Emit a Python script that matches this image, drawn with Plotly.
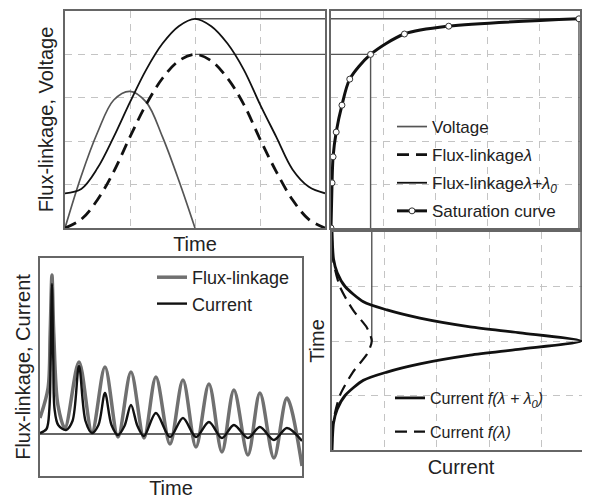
import plotly.graph_objects as go

# ---------------- data ----------------
# top-left panel: time in grid units (0..4)
time_v = [0, 0.25, 0.5, 0.75, 1.0, 1.25, 1.5, 1.75, 2.0]
voltage = [0, 1.2, 2.2, 2.95, 3.15, 2.9, 2.1, 1.1, 0]

time_tl = [0, 0.25, 0.5, 0.75, 1.0, 1.25, 1.5, 1.75, 2.0,
           2.25, 2.5, 2.75, 3.0, 3.25, 3.5, 3.75, 4.0]
flux_lam = [0, 0.2, 0.65, 1.3, 2.1, 2.85, 3.45, 3.85, 4.0,
            3.85, 3.45, 2.85, 2.05, 1.3, 0.65, 0.2, 0]
flux_lam_l0 = [0.8, 0.9, 1.38, 2.1, 2.9, 3.65, 4.25, 4.65, 4.82,
               4.65, 4.25, 3.65, 2.85, 2.1, 1.35, 0.95, 0.8]

# top-right panel: saturation curve (current, flux-linkage)
sat_current = [0, 0.02, 0.04, 0.10, 0.21, 0.36, 0.76, 1.41, 2.26, 4.76]
sat_flux = [0, 1.04, 1.64, 2.21, 2.83, 3.43, 4.0, 4.47, 4.65, 4.82]

# lower-right panel: current versus time
time_lr = [0, 0.5, 0.75, 1.0, 1.28, 1.43, 1.58, 1.74, 1.85, 2.0,
           2.15, 2.26, 2.42, 2.57, 2.72, 3.0, 3.25, 3.5, 4.0]
cur_f_lam0 = [0, 0.03, 0.1, 0.25, 0.6, 1.05, 1.68, 2.64, 3.6, 4.76,
              3.6, 2.64, 1.68, 1.05, 0.6, 0.25, 0.1, 0.03, 0]
time_lr_d = [0, 0.5, 1.0, 1.43, 1.76, 2.0, 2.24, 2.57, 3.0, 3.5, 4.0]
cur_f_lam = [0, 0.02, 0.15, 0.4, 0.67, 0.76, 0.67, 0.4, 0.15, 0.02, 0]

# lower-left panel: simulated flux-linkage and current
ll_flux_t = [0, 0.31, 0.39, 0.46, 0.53, 0.69, 0.96, 1.5, 2.0, 2.5, 3.0, 3.5,
             4.0, 4.46, 5.0, 5.5, 6.0, 6.5, 7.0, 7.46, 8.0, 8.46, 9.0, 9.5, 10.08]
ll_flux = [1.6, 4.6, 10.0, 15.9, 10.0, 2.9, 0.6, 7.2, 0.2, 6.7, -0.3, 6.2,
           -0.4, 5.7, -1.0, 5.4, -1.3, 5.0, -1.8, 4.4, -2.1, 4.1, -2.4, 3.6, -3.2]
ll_cur_t = [0, 0.25, 0.36, 0.41, 0.46, 0.51, 0.56, 0.7, 1.0, 1.25, 1.5, 1.75,
            2.0, 2.25, 2.5, 2.75, 3.0, 3.25, 3.5, 3.75, 4.0, 4.46, 5.0, 5.5,
            6.0, 6.5, 7.0, 7.46, 8.0, 8.46, 9.0, 9.5, 10.08]
ll_cur = [0.1, 0.5, 2.5, 7.5, 15.0, 7.5, 2.5, 0.9, 0.4, 1.3, 6.8, 1.3,
          0.1, 0.9, 4.1, 0.9, -0.1, 0.8, 2.9, 0.8, -0.2, 2.1, -0.3, 1.6,
          -0.3, 1.2, -0.4, 0.9, -0.4, 0.7, -0.6, 0.6, -0.7]

# ---------------- derived projection values ----------------
lam_peak = max(flux_lam)
lam0_peak = max(flux_lam_l0)
t_peak = time_tl[flux_lam.index(lam_peak)]
i_peak_dash = max(cur_f_lam)
i_peak_solid = max(cur_f_lam0)
t_peak_lr = time_lr[cur_f_lam0.index(i_peak_solid)]
t_end = time_tl[-1]

FONT = "Liberation Sans, Arial, sans-serif"
DASH = "12px,7px"
PROJ = dict(color="#555555", width=1.4)

fig = go.Figure()

# ---- top-left ----
fig.add_trace(go.Scatter(x=[t_peak, t_end], y=[lam0_peak, lam0_peak], mode="lines",
                         line=PROJ, showlegend=False, xaxis="x", yaxis="y", hoverinfo="skip"))
fig.add_trace(go.Scatter(x=[t_peak, t_end], y=[lam_peak, lam_peak], mode="lines",
                         line=PROJ, showlegend=False, xaxis="x", yaxis="y", hoverinfo="skip"))
fig.add_trace(go.Scatter(x=time_v, y=voltage, name="Voltage", mode="lines",
                         line=dict(color="#555555", width=1.7, shape="spline"),
                         xaxis="x", yaxis="y", legend="legend", legendgroup="a"))
fig.add_trace(go.Scatter(x=time_tl, y=flux_lam, name="Flux-linkage<i>λ</i>", mode="lines",
                         line=dict(color="#111111", width=2.8, dash=DASH, shape="spline"),
                         xaxis="x", yaxis="y", legend="legend", legendgroup="b"))
fig.add_trace(go.Scatter(x=time_tl, y=flux_lam_l0,
                         name="Flux-linkage<i>λ+λ<sub>0</sub></i>", mode="lines",
                         line=dict(color="#111111", width=1.8, shape="spline"),
                         xaxis="x", yaxis="y", legend="legend", legendgroup="c"))

# ---- top-right ----
fig.add_trace(go.Scatter(x=[0, i_peak_solid], y=[lam0_peak, lam0_peak], mode="lines",
                         line=PROJ, showlegend=False, xaxis="x2", yaxis="y2", hoverinfo="skip"))
fig.add_trace(go.Scatter(x=[0, i_peak_dash, i_peak_dash], y=[lam_peak, lam_peak, 0],
                         mode="lines", line=PROJ, showlegend=False,
                         xaxis="x2", yaxis="y2", hoverinfo="skip"))
fig.add_trace(go.Scatter(x=[i_peak_solid, i_peak_solid], y=[lam0_peak, 0], mode="lines",
                         line=PROJ, showlegend=False, xaxis="x2", yaxis="y2", hoverinfo="skip"))
fig.add_trace(go.Scatter(x=sat_current, y=sat_flux, name="Saturation curve",
                         mode="lines+markers",
                         line=dict(color="#111111", width=3, shape="spline", smoothing=0.8),
                         marker=dict(symbol="circle", size=6, color="white",
                                     line=dict(color="#333333", width=1)),
                         xaxis="x2", yaxis="y2", legend="legend", legendgroup="d"))

# ---- lower-left ----
fig.add_trace(go.Scatter(x=ll_flux_t, y=ll_flux, name="Flux-linkage", mode="lines",
                         line=dict(color="#707070", width=3.5, shape="spline", smoothing=0.9),
                         xaxis="x3", yaxis="y3", legend="legend2", legendgroup="e"))
fig.add_trace(go.Scatter(x=ll_cur_t, y=ll_cur, name="Current", mode="lines",
                         line=dict(color="#111111", width=2.4, shape="spline", smoothing=0.9),
                         xaxis="x3", yaxis="y3", legend="legend2", legendgroup="f"))

# ---- lower-right ----
fig.add_trace(go.Scatter(x=[i_peak_dash, i_peak_dash], y=[0, t_peak_lr], mode="lines",
                         line=PROJ, showlegend=False, xaxis="x4", yaxis="y4", hoverinfo="skip"))
fig.add_trace(go.Scatter(x=[i_peak_solid, i_peak_solid], y=[0, t_peak_lr], mode="lines",
                         line=PROJ, showlegend=False, xaxis="x4", yaxis="y4", hoverinfo="skip"))
fig.add_trace(go.Scatter(x=cur_f_lam0, y=time_lr,
                         name="Current <i>f(λ + λ<sub>0</sub>)</i>", mode="lines",
                         line=dict(color="#111111", width=2.8, shape="spline", smoothing=0.7),
                         xaxis="x4", yaxis="y4", legend="legend3", legendgroup="g"))
fig.add_trace(go.Scatter(x=cur_f_lam, y=time_lr_d, name="Current <i>f(λ)</i>", mode="lines",
                         line=dict(color="#111111", width=2.2, dash=DASH, shape="spline", smoothing=0.7),
                         xaxis="x4", yaxis="y4", legend="legend3", legendgroup="h"))

# The page body has an 8px default margin, so the figure is placed at (8, 8)
# inside the 590x499 window; layout positions below are given in window pixels.
OX, OY = 8, 8
W, H = 590 - OX, 499 - OY


def px(a, b):
    return [(a - OX) / W, min(1.0, (b - OX) / W)]


def py(top, bottom):
    return [1 - (bottom - OY) / H, 1 - (top - OY) / H]


def lx(a):
    return (a - OX) / W


def ly(b):
    return 1 - (b - OY) / H


axis_common = dict(showticklabels=False, ticks="", showline=True, linecolor="#666666",
                   linewidth=1.5, zeroline=False, gridcolor="#c4c4c4", gridwidth=1.3,
                   griddash="7px,6px", dtick=1, tick0=0)
title_font = dict(family=FONT, size=20, color="#222222")

fig.update_layout(
    width=W, height=H, margin=dict(l=0, r=0, t=0, b=0),
    paper_bgcolor="white", plot_bgcolor="white",
    font=dict(family=FONT, color="#222222"),
    xaxis=dict(axis_common, domain=px(65, 325), range=[0, 4], anchor="y", mirror=True,
               title=dict(text="Time", font=title_font, standoff=8)),
    yaxis=dict(axis_common, domain=py(11, 228), range=[0, 5], anchor="x", mirror=True,
               title=dict(text="Flux-linkage, Voltage", font=title_font, standoff=4)),
    xaxis2=dict(axis_common, domain=px(331, 580), range=[0, 4.78], anchor="y2", mirror=True),
    yaxis2=dict(axis_common, domain=py(11, 228), range=[0, 5], anchor="x2", mirror=True),
    xaxis3=dict(axis_common, domain=px(40, 302), range=[0, 10.08], anchor="y3", mirror=True,
                showgrid=False,
                title=dict(text="Time", font=title_font, standoff=4)),
    yaxis3=dict(axis_common, domain=py(258, 476), range=[-4.2, 17.6], anchor="x3", mirror=True,
                showgrid=False, zeroline=True, zerolinecolor="#666666", zerolinewidth=1.5,
                title=dict(text="Flux-linkage, Current", font=title_font, standoff=2)),
    xaxis4=dict(axis_common, domain=px(332, 590), range=[0, 4.93], anchor="y4", mirror=True,
                title=dict(text="Current", font=title_font, standoff=9)),
    yaxis4=dict(axis_common, domain=py(232, 450), range=[4, 0], anchor="x4",
                title=dict(text="Time", font=title_font, standoff=0)),
    legend=dict(x=lx(392), y=ly(109), xanchor="left", yanchor="top",
                bgcolor="rgba(0,0,0,0)", font=dict(family=FONT, size=17, color="#222222"),
                tracegroupgap=3, traceorder="grouped"),
    legend2=dict(x=lx(152), y=ly(259), xanchor="left", yanchor="top",
                 bgcolor="rgba(0,0,0,0)", font=dict(family=FONT, size=18, color="#222222"),
                 tracegroupgap=0, traceorder="grouped"),
    legend3=dict(x=lx(390), y=ly(381), xanchor="left", yanchor="top",
                 bgcolor="rgba(0,0,0,0)", font=dict(family=FONT, size=16, color="#222222"),
                 tracegroupgap=10, traceorder="grouped"),
)

fig.write_html("out.html")
